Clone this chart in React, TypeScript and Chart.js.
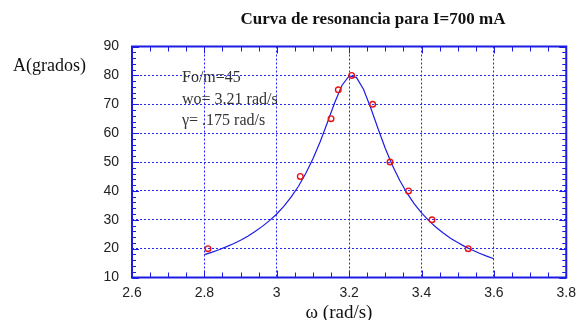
import React, { useEffect, useRef } from "react";
import { Chart, registerables } from "chart.js";

Chart.register(...registerables);

// Measured points (ω in rad/s, amplitude in degrees)
const measOmega = [2.81, 3.065, 3.15, 3.17, 3.207, 3.265, 3.313, 3.364, 3.429, 3.529];
const measAmp = [20, 45, 65, 75, 80, 70, 50, 40, 30, 20];

// Fitted resonance curve
const curveOmega = [
  2.8, 2.82, 2.84, 2.86, 2.88, 2.9, 2.92, 2.94, 2.96, 2.98, 3.0, 3.02, 3.04, 3.06, 3.08,
  3.1, 3.12, 3.14, 3.16, 3.18, 3.2, 3.22, 3.24, 3.26, 3.28, 3.3, 3.32, 3.34, 3.36, 3.38,
  3.4, 3.42, 3.44, 3.46, 3.48, 3.5, 3.52, 3.54, 3.56, 3.58, 3.6,
];
const curveAmp = [
  17.9, 18.7, 19.6, 20.6, 21.7, 22.9, 24.3, 25.9, 27.7, 29.7, 32.0, 34.7, 37.9, 41.6, 46.0,
  51.1, 57.0, 63.7, 70.5, 76.5, 79.8, 79.3, 75.1, 68.6, 61.5, 54.7, 48.7, 43.6, 39.2, 35.5,
  32.4, 29.7, 27.4, 25.4, 23.6, 22.1, 20.7, 19.5, 18.4, 17.4, 16.5,
];

const xTicks = ["2.6", "2.8", "3", "3.2", "3.4", "3.6", "3.8"];
const yTicks = ["10", "20", "30", "40", "50", "60", "70", "80", "90"];

const titleText = "Curva de resonancia para I=700 mA";
const yLabel = "A(grados)";
const xLabel = "ω (rad/s)";
const notes = ["Fo/m=45", "wo= 3.21 rad/s", "γ= .175 rad/s"];

const BLUE = "#1c1ce4";
const GRID = "#2626ff";
const RED = "#e81414";
const SERIF = "'Liberation Serif', 'Times New Roman', serif";
const SANS = "'Liberation Sans', Arial, sans-serif";

const xMin = Number(xTicks[0]);
const xMax = Number(xTicks[xTicks.length - 1]);
const yMin = Number(yTicks[0]);
const yMax = Number(yTicks[yTicks.length - 1]);

const decorPlugin = {
  id: "decor",
  afterDraw(chart: any) {
    const { ctx, chartArea, scales } = chart;
    const xs = scales.x;
    const ys = scales.y;
    ctx.save();
    // minor/major ticks on all four sides, pointing inward
    ctx.strokeStyle = BLUE;
    ctx.lineWidth = 1;
    ctx.beginPath();
    for (let i = 0; i <= Math.round((xMax - xMin) / 0.05); i++) {
      const v = xMin + i * 0.05;
      const px = Math.round(xs.getPixelForValue(v)) + 0.5;
      const len = i % 4 === 0 ? 7 : 5;
      ctx.moveTo(px, chartArea.bottom);
      ctx.lineTo(px, chartArea.bottom - len);
      ctx.moveTo(px, chartArea.top);
      ctx.lineTo(px, chartArea.top + len);
    }
    for (let i = 0; i <= Math.round((yMax - yMin) / 2); i++) {
      const v = yMin + i * 2;
      const py = Math.round(ys.getPixelForValue(v)) + 0.5;
      const len = i % 5 === 0 ? 7 : 4;
      ctx.moveTo(chartArea.left, py);
      ctx.lineTo(chartArea.left + len, py);
      ctx.moveTo(chartArea.right, py);
      ctx.lineTo(chartArea.right - len, py);
    }
    ctx.stroke();
    // frame
    ctx.lineWidth = 2;
    ctx.strokeRect(chartArea.left, chartArea.top, chartArea.right - chartArea.left, chartArea.bottom - chartArea.top);

    // texts
    ctx.fillStyle = "#111";
    ctx.textBaseline = "alphabetic";
    ctx.font = `bold 17px ${SERIF}`;
    ctx.textAlign = "center";
    ctx.fillText(titleText, chartArea.left + 241, 23.5);

    ctx.font = `18px ${SERIF}`;
    ctx.textAlign = "left";
    ctx.fillText(yLabel, 13, 70.5);

    ctx.font = `19px ${SERIF}`;
    ctx.textAlign = "center";
    ctx.fillText(xLabel, chartArea.left + 207, 318);

    ctx.fillStyle = "#333";
    ctx.font = `16px ${SERIF}`;
    ctx.textAlign = "left";
    const base = [81.5, 103.5, 125];
    notes.forEach((t, i) => ctx.fillText(t, chartArea.left + 50, base[i]));
    ctx.restore();
  },
};

export default function App() {
  const ref = useRef<HTMLCanvasElement | null>(null);
  useEffect(() => {
    if (!ref.current) return;
    const chart = new Chart(ref.current, {
      type: "scatter",
      data: {
        datasets: [
          {
            label: "ajuste",
            data: curveOmega.map((x, i) => ({ x, y: curveAmp[i] })),
            showLine: true,
            borderColor: BLUE,
            borderWidth: 1.2,
            pointRadius: 0,
            tension: 0,
            order: 2,
          },
          {
            label: "medidas",
            data: measOmega.map((x, i) => ({ x, y: measAmp[i] })),
            showLine: false,
            borderColor: RED,
            backgroundColor: "rgba(0,0,0,0)",
            pointRadius: 2.8,
            pointBorderWidth: 1.4,
            order: 1,
          },
        ],
      },
      options: {
        animation: false,
        responsive: true,
        maintainAspectRatio: false,
        layout: { padding: { top: 46.5, right: 10, left: 0, bottom: 0 } },
        plugins: { legend: { display: false }, tooltip: { enabled: false }, title: { display: false } },
        scales: {
          x: {
            type: "linear",
            min: xMin,
            max: xMax,
            afterFit: (s: any) => {
              s.height = 42.5;
            },
            afterBuildTicks: (s: any) => {
              s.ticks = xTicks.map((t) => ({ value: Number(t) }));
            },
            ticks: {
              callback: (v: any) => {
                const k = xTicks.find((t) => Math.abs(Number(t) - v) < 1e-6);
                return k ?? "";
              },
              font: { family: SANS, size: 14 },
              color: "#222",
              padding: 7,
              maxRotation: 0,
              autoSkip: false,
            },
            grid: { color: GRID, lineWidth: 1, drawTicks: false },
            border: { display: false, dash: [2, 2] },
          },
          y: {
            type: "linear",
            min: yMin,
            max: yMax,
            afterFit: (s: any) => {
              s.width = 132;
            },
            afterBuildTicks: (s: any) => {
              s.ticks = yTicks.map((t) => ({ value: Number(t) }));
            },
            ticks: {
              callback: (v: any) => {
                const k = yTicks.find((t) => Math.abs(Number(t) - v) < 1e-6);
                return k ?? "";
              },
              font: { family: SANS, size: 14 },
              color: "#222",
              padding: 13,
              autoSkip: false,
            },
            grid: { color: GRID, lineWidth: 1, drawTicks: false },
            border: { display: false, dash: [2, 2] },
          },
        },
      },
      plugins: [decorPlugin],
    });
    return () => chart.destroy();
  }, []);
  return (
    <div style={{ position: "absolute", left: 0, top: 0, width: 583, height: 320, background: "#fff" }}>
      <canvas ref={ref} />
    </div>
  );
}
